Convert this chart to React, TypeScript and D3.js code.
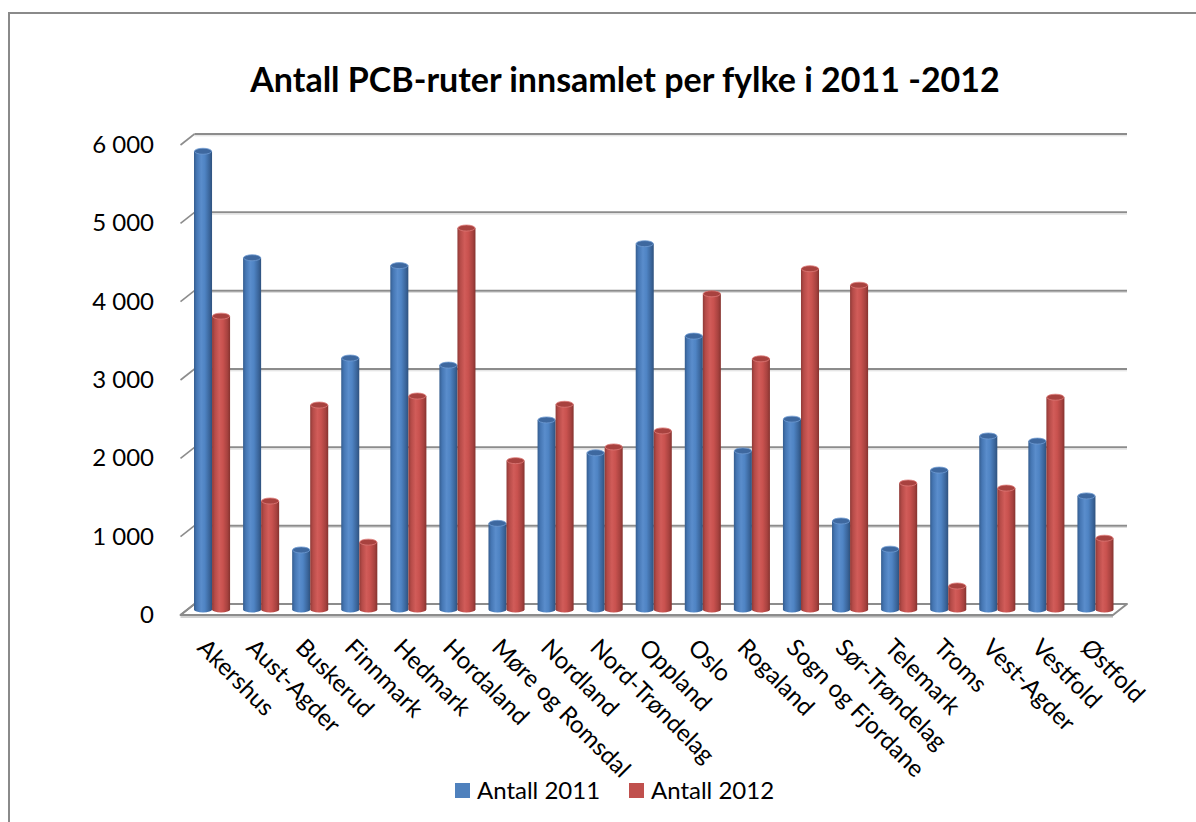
import React, { useEffect, useRef } from 'react';
import * as d3 from 'd3';

const categories = [
  'Akershus', 'Aust-Agder', 'Buskerud', 'Finnmark', 'Hedmark', 'Hordaland',
  'Møre og Romsdal', 'Nordland', 'Nord-Trøndelag', 'Oppland', 'Oslo', 'Rogaland',
  'Sogn og Fjordane', 'Sør-Trøndelag', 'Telemark', 'Troms', 'Vest-Agder', 'Vestfold', 'Østfold',
];
const antall2011 = [5850, 4490, 760, 3210, 4390, 3120, 1100, 2420, 2000, 4670, 3490, 2025, 2430, 1130, 770, 1780, 2215, 2150, 1450];
const antall2012 = [3745, 1385, 2610, 860, 2725, 4870, 1900, 2620, 2075, 2280, 4030, 3200, 4350, 4140, 1615, 300, 1550, 2710, 910];
const seriesNames = ['Antall 2011', 'Antall 2012'];
const yTicks = [0, 1000, 2000, 3000, 4000, 5000, 6000];

const W = 1196;
const H = 822;
const FONT = 'Lato, "Noto Sans", sans-serif';

const App: React.FC = () => {
  const svgRef = useRef<SVGSVGElement>(null);

  useEffect(() => {
    if (!svgRef.current) return;
    const svg = d3.select(svgRef.current);
    svg.selectAll('*').remove();

    // depth offsets from bar plane to back wall / front edge
    const dx = 7;
    const dy = -5.5;

    const x = d3.scaleBand<string>()
      .domain(categories)
      .range([187.5, 1120])
      .paddingInner(13 / 49.06)
      .paddingOuter(13 / 49.06 / 2);
    const xs = d3.scaleBand<string>().domain(seriesNames).range([0, x.bandwidth()]);
    const y = d3.scaleLinear().domain([0, 6000]).range([609.5, 139.5]);

    const defs = svg.append('defs');
    const grads = [
      { id: 'g2011', stops: ['#355d8f', '#4576b3', '#5a8dcc', '#4f84c4', '#3b669c', '#2f527e'] },
      { id: 'g2012', stops: ['#8f3a37', '#b54b48', '#d15c59', '#c9524f', '#a7423f', '#85332f'] },
    ];
    grads.forEach(g => {
      const lg = defs.append('linearGradient').attr('id', g.id).attr('x1', 0).attr('x2', 1).attr('y1', 0).attr('y2', 0);
      const offs = [0, 0.15, 0.4, 0.6, 0.85, 1];
      g.stops.forEach((c, i) => lg.append('stop').attr('offset', offs[i]).attr('stop-color', c));
    });
    const capFill = ['#3e689f', '#a8423f'];
    const capStroke = ['#6f9bd2', '#dd7a77'];

    // frame
    svg.append('rect')
      .attr('x', 9).attr('y', 13).attr('width', 1200).attr('height', 820)
      .attr('fill', 'white').attr('stroke', '#8a8a8a').attr('stroke-width', 2);

    // title
    svg.append('text')
      .attr('x', 625).attr('y', 92)
      .attr('text-anchor', 'middle')
      .attr('font-family', FONT).attr('font-weight', 'bold').attr('font-size', 34)
      .attr('fill', '#000')
      .text('Antall PCB-ruter innsamlet per fylke i 2011 -2012');

    const x0 = (x(categories[0]) || 0) - 6.5;
    const x1 = (x(categories[categories.length - 1]) || 0) + x.bandwidth() + 6.5;

    // floor
    const floor = svg.append('g');
    floor.append('path')
      .attr('d', `M${x0 - dx},${y(0) - dy + 2} L${x1 - dx},${y(0) - dy + 2} L${x1 - dx},${y(0) - dy} Z`)
      .attr('fill', '#bdbdbd');
    floor.append('path')
      .attr('d', `M${x0 - dx},${y(0) - dy} L${x0 + dx},${y(0) + dy} L${x1 + dx},${y(0) + dy} L${x1 - dx},${y(0) - dy} Z`)
      .attr('fill', 'white').attr('stroke', '#8c8c8c').attr('stroke-width', 2).attr('stroke-linejoin', 'round');
    floor.append('line')
      .attr('x1', x0 - dx).attr('x2', x1 - dx)
      .attr('y1', y(0) - dy + 2).attr('y2', y(0) - dy + 2)
      .attr('stroke', '#a8a8a8').attr('stroke-width', 1);

    // gridlines on back wall + diagonal ticks on side
    const grid = svg.append('g');
    yTicks.forEach(t => {
      if (t > 0) {
        grid.append('line')
          .attr('x1', x0 + dx).attr('x2', x1 + dx)
          .attr('y1', y(t) + dy).attr('y2', y(t) + dy)
          .attr('stroke', '#8c8c8c').attr('stroke-width', 2);
        grid.append('line')
          .attr('x1', x0 + dx).attr('x2', x1 + dx)
          .attr('y1', y(t) + dy + 1.8).attr('y2', y(t) + dy + 1.8)
          .attr('stroke', '#dcdcdc').attr('stroke-width', 1);
      }
      grid.append('line')
        .attr('x1', x0 - dx).attr('y1', y(t) - dy)
        .attr('x2', x0 + dx).attr('y2', y(t) + dy)
        .attr('stroke', '#8c8c8c').attr('stroke-width', 1.6);
    });

    // y labels
    svg.append('g').selectAll('text')
      .data(yTicks)
      .enter()
      .append('text')
      .attr('x', 154)
      .attr('y', d => y(d) - dy + 8)
      .attr('text-anchor', 'end')
      .attr('font-family', FONT).attr('font-size', 24)
      .attr('fill', '#000')
      .text(d => d3.format(',')(d).replace(',', ' '));

    // bars
    const rx = xs.bandwidth() / 2;
    const ry = 3;
    const bars = svg.append('g');
    categories.forEach((c, i) => {
      [antall2011[i], antall2012[i]].forEach((v, s) => {
        const bx = (x(c) || 0) + (xs(seriesNames[s]) || 0);
        const bw = xs.bandwidth();
        const top = y(v);
        const base = y(0);
        bars.append('path')
          .attr('d', `M${bx},${top} L${bx},${base} A${rx},${ry} 0 0 0 ${bx + bw},${base} L${bx + bw},${top} Z`)
          .attr('fill', `url(#${grads[s].id})`);
        bars.append('ellipse')
          .attr('cx', bx + rx).attr('cy', top)
          .attr('rx', rx - 0.4).attr('ry', ry)
          .attr('fill', capFill[s])
          .attr('stroke', capStroke[s]).attr('stroke-width', 0.8);
      });
    });

    // x labels
    svg.append('g').selectAll('text')
      .data(categories)
      .enter()
      .append('text')
      .attr('transform', d => {
        const cx = (x(d) || 0) + x.bandwidth() / 2 - dx - 9;
        return `translate(${cx},649) rotate(45)`;
      })
      .attr('font-family', FONT).attr('font-size', 24)
      .attr('fill', '#000')
      .text(d => d);

    // legend
    const legend = svg.append('g');
    const lx = [455, 629];
    const colors = ['#4f81bd', '#c0504d'];
    seriesNames.forEach((n, i) => {
      legend.append('rect')
        .attr('x', lx[i]).attr('y', 783).attr('width', 15).attr('height', 15)
        .attr('fill', colors[i]);
      legend.append('text')
        .attr('x', lx[i] + 22).attr('y', 799)
        .attr('font-family', FONT).attr('font-size', 24)
        .attr('fill', '#000')
        .text(n);
    });
  }, []);

  return (
    <svg
      ref={svgRef}
      width={W}
      height={H}
      style={{ display: 'block', position: 'absolute', left: 0, top: 0 }}
    />
  );
};

export default App;
